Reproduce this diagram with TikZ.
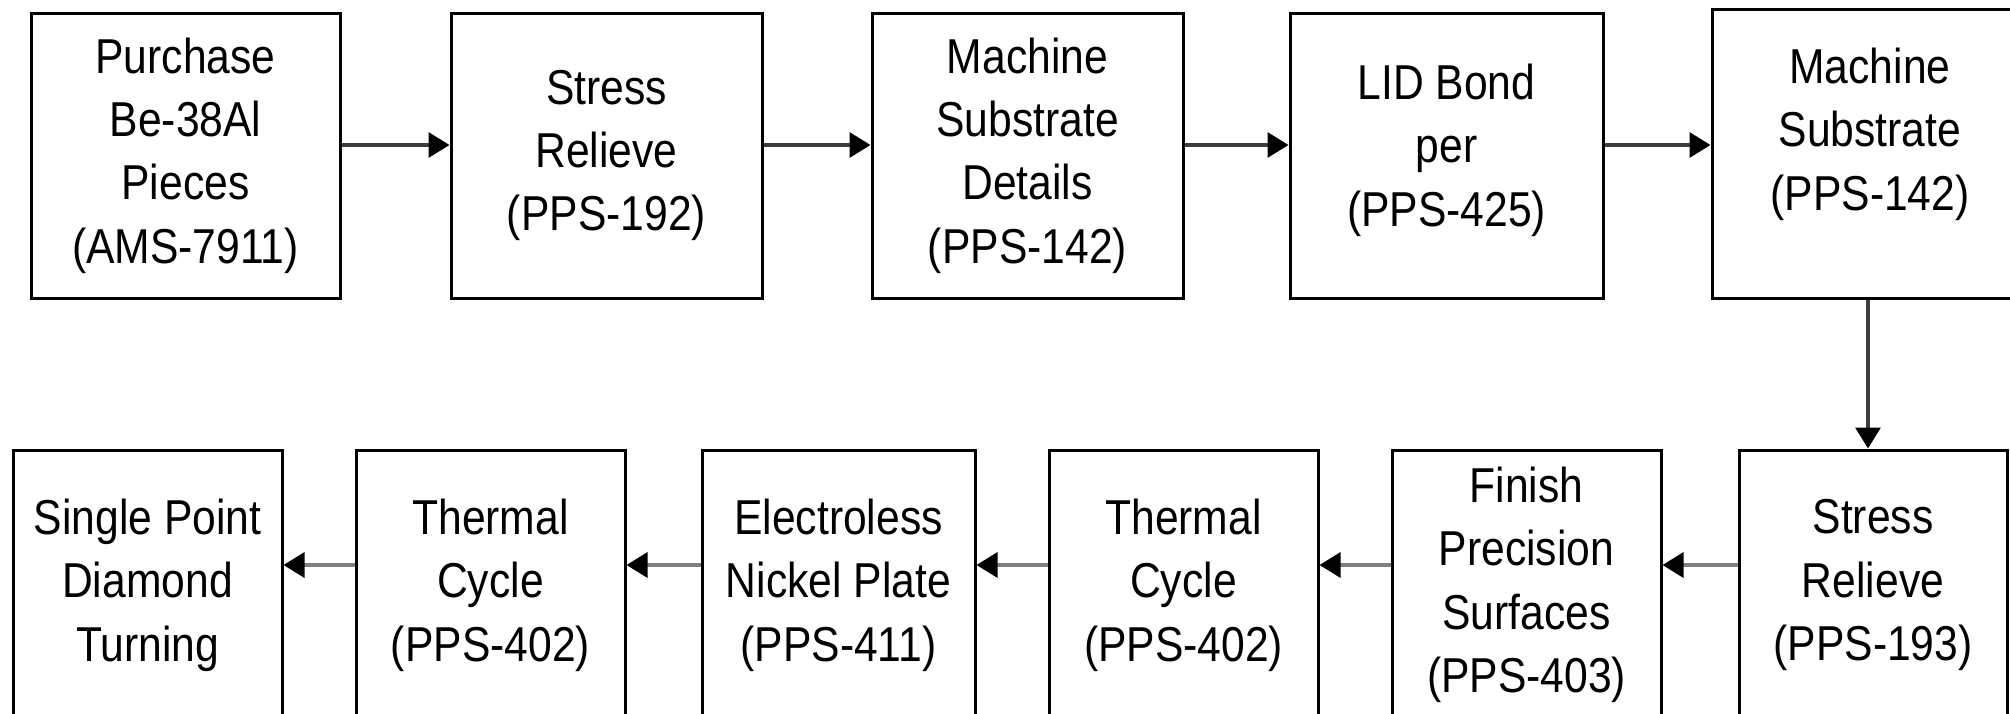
\documentclass[tikz,border=0pt]{standalone}
\usepackage{fontspec}
\setmainfont{Liberation Sans}
\newfontfamily\boxfont[FakeStretch=0.87]{Liberation Sans}
\usetikzlibrary{arrows.meta,calc}
\definecolor{toparrow}{RGB}{60,60,60}
\definecolor{botarrow}{RGB}{128,128,128}
\tikzset{
  stepbox/.style={draw=black, line width=1.5pt, fill=white, align=center, inner sep=0pt,
    font=\boxfont\fontsize{24.5}{31.7}\selectfont},
  txt/.style={align=center, inner sep=0pt, font=\boxfont\fontsize{24.5}{31.7}\selectfont},
  flowtop/.style={draw=toparrow, line width=1.6pt, -{Triangle[length=10.5pt,width=12.5pt,color=black]}},
  flowbot/.style={draw=botarrow, line width=1.6pt, -{Triangle[length=10.5pt,width=12.5pt,color=black]}}
}
\begin{document}
\begin{tikzpicture}[x=0.5pt,y=-0.5pt]
\useasboundingbox (0,0) rectangle (2010,713);
\clip (0,0) rectangle (2010,713);
\fill[white] (0,0) rectangle (2010,713);
\coordinate (toprow) at (0,145);
\coordinate (botrow) at (0,565);
% top row
\node[stepbox, minimum width=154.5pt, minimum height=142.5pt] (b1) at (185.5,155.5) {Purchase\\Be-38Al\\Pieces\\(AMS-7911)};
\node[stepbox, minimum width=155.5pt, minimum height=142.5pt] (b2) at (606.5,155.5) {Stress\\Relieve\\(PPS-192)};
\node[stepbox, minimum width=155.5pt, minimum height=142.5pt] (b3) at (1027.5,155.5) {Machine\\Substrate\\Details\\(PPS-142)};
\node[stepbox, minimum width=156.5pt, minimum height=142.5pt] (b4) at (1446.5,155.5) {};
\node[txt] (t4) at (1446.5,150) {LID Bond\\per\\(PPS-425)};
\node[stepbox, minimum width=158pt, minimum height=144.5pt] (b5) at (1870,153.5) {};
\node[txt] (t5) at (1870,134) {Machine\\Substrate\\(PPS-142)};
% bottom row
\node[stepbox, minimum width=134.5pt, minimum height=135pt] (c1) at (147.5,585) {Single Point\\Diamond\\Turning};
\node[stepbox, minimum width=134.5pt, minimum height=135pt] (c2) at (490.5,585) {Thermal\\Cycle\\(PPS-402)};
\node[stepbox, minimum width=136.5pt, minimum height=135pt] (c3) at (838.5,585) {Electroless\\Nickel Plate\\(PPS-411)};
\node[stepbox, minimum width=134.5pt, minimum height=135pt] (c4) at (1183.5,585) {Thermal\\Cycle\\(PPS-402)};
\node[stepbox, minimum width=134.5pt, minimum height=135pt] (c5) at (1526.5,585) {Finish\\Precision\\Surfaces\\(PPS-403)};
\node[stepbox, minimum width=134pt, minimum height=135pt] (c6) at (1873,585) {Stress\\Relieve\\(PPS-193)};
% connectors top
\draw[flowtop] (b1.east |- toprow) -- (b2.west |- toprow);
\draw[flowtop] (b2.east |- toprow) -- (b3.west |- toprow);
\draw[flowtop] (b3.east |- toprow) -- (b4.west |- toprow);
\draw[flowtop] (b4.east |- toprow) -- (b5.west |- toprow);
% vertical
\draw[flowtop] ([xshift=-1pt]b5.south) -- ([xshift=-1pt]b5.south |- c6.north);
% connectors bottom
\draw[flowbot] (c6.west |- botrow) -- (c5.east |- botrow);
\draw[flowbot] (c5.west |- botrow) -- (c4.east |- botrow);
\draw[flowbot] (c4.west |- botrow) -- (c3.east |- botrow);
\draw[flowbot] (c3.west |- botrow) -- (c2.east |- botrow);
\draw[flowbot] (c2.west |- botrow) -- (c1.east |- botrow);
\end{tikzpicture}
\end{document}
